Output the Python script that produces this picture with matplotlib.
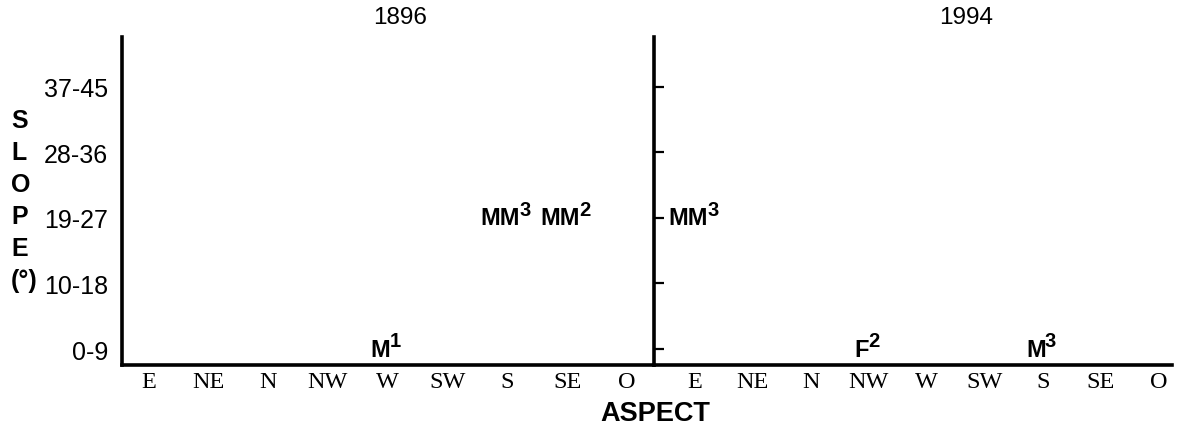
import matplotlib
matplotlib.use("Agg")
import matplotlib.pyplot as plt

# ---- data ----
years = ['1896', '1994']
aspects = ['E', 'NE', 'N', 'NW', 'W', 'SW', 'S', 'SE', 'O']
slopes = ['0-9', '10-18', '19-27', '28-36', '37-45']

obs_1896_aspect = ['W', 'S', 'SE']
obs_1896_slope = ['0-9', '19-27', '19-27']
obs_1896_code = ['M', 'MM', 'MM']
obs_1896_count = [1, 3, 2]

obs_1994_aspect = ['E', 'NW', 'S']
obs_1994_slope = ['19-27', '0-9', '0-9']
obs_1994_code = ['MM', 'F', 'M']
obs_1994_count = [3, 2, 3]

W, H = 1177, 431
fig = plt.figure(figsize=(W / 100, H / 100), dpi=100)

def fx(px):
    return px / W

def fy(py):
    return 1 - py / H

ax_top, ax_bot = 38, 366
ax1 = fig.add_axes([fx(122), fy(ax_bot), fx(654 - 122), (ax_bot - ax_top) / H])
ax2 = fig.add_axes([fx(654), fy(ax_bot), fx(1172 - 654), (ax_bot - ax_top) / H])

panels = [
    (ax1, years[0], obs_1896_aspect, obs_1896_slope, obs_1896_code, obs_1896_count, (-0.439, 8.45), 0.523),
    (ax2, years[1], obs_1994_aspect, obs_1994_slope, obs_1994_code, obs_1994_count, (-0.707, 8.23), 0.602),
]

sans = 'Liberation Sans'
serif = 'Liberation Serif'

for i, (ax, yr, asp, slp, code, cnt, xl, tx) in enumerate(panels):
    ax.set_xlim(*xl)
    ax.set_ylim(-0.244, 4.76)
    for s in ['top', 'right']:
        ax.spines[s].set_visible(False)
    for s in ['left', 'bottom']:
        ax.spines[s].set_linewidth(2.6)
        ax.spines[s].set_color('black')
    ax.set_xticks(range(len(aspects)))
    ax.set_xticklabels(aspects, fontfamily=serif, fontsize=17.5)
    ax.tick_params(axis='x', length=0, pad=4)
    ax.set_yticks(range(len(slopes)))
    if i == 0:
        ax.set_yticklabels(slopes, fontfamily=sans, fontsize=18)
        ax.tick_params(axis='y', length=0, pad=10)
    else:
        ax.set_yticklabels([])
        ax.tick_params(axis='y', direction='in', length=7, width=1.6)
    ax.patch.set_alpha(0)
    ax.text(tx, 1.061, yr, transform=ax.transAxes, ha='center', va='center',
            fontfamily=sans, fontsize=17.5)
    for a, s, c, n in zip(asp, slp, code, cnt):
        main = ax.annotate(c, xy=(aspects.index(a), slopes.index(s)), xycoords='data',
                           xytext=(-5, 0), textcoords='offset points',
                           ha='center', va='center', fontfamily=sans,
                           fontweight='bold', fontsize=17)
        ax.annotate(str(n), xy=(1, 1), xycoords=main, xytext=(-0.5, 4.5),
                    textcoords='offset points', ha='left', va='top',
                    fontfamily=sans, fontweight='bold', fontsize=14.5)

fig.text(fx(655), fy(414), 'ASPECT', ha='center', va='center',
         fontfamily=sans, fontweight='bold', fontsize=19.5)
fig.text(fx(11), fy(201), 'S\nL\nO\nP\nE\n(°)', ha='left', va='center',
         multialignment='left', fontfamily=sans, fontweight='bold',
         fontsize=18, linespacing=1.42)

fig.savefig('out.png', dpi=100)
